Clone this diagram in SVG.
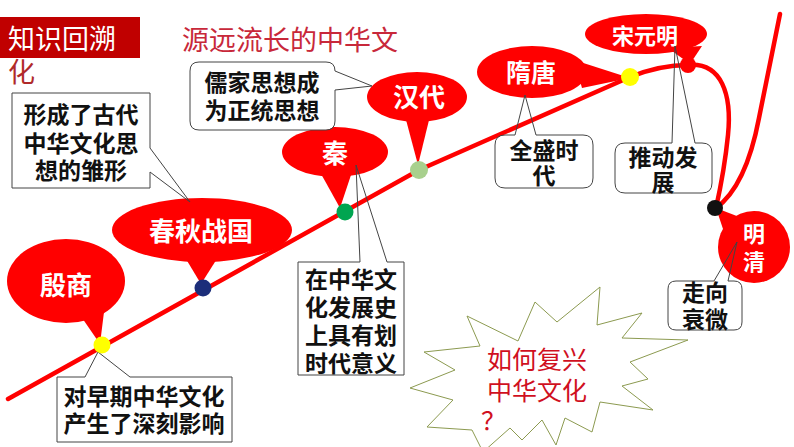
<svg xmlns="http://www.w3.org/2000/svg" width="794" height="447" viewBox="0 0 794 447">
<style>
text{font-family:"Noto Sans CJK SC","Noto Sans",sans-serif}
.w{fill:#fff;font-weight:700;text-anchor:middle}
.b{fill:#111;font-weight:700;font-size:23px;text-anchor:middle}
.bub{fill:#ff0000}
.box{fill:#fff}
.out{fill:none;stroke:#444;stroke-width:1}
.line{fill:none;stroke:#ff0000;stroke-width:4.5;stroke-linecap:round}
</style>
<rect width="794" height="447" fill="#fff"/>

<g id="starburst">
<polygon points="467,316 518,341 535,302 557,322 600,287 597,325 642,313 622,338 688,340 630,362 648,379 622,386 653,410 600,402 592,432 565,418 556,445 542,420 522,440 510,428 483,452 472,430 427,427 453,400 410,388 455,370 424,352 480,346" fill="#fff" stroke="#8c9a50" stroke-width="1"/>
<text x="487" y="369" font-size="25" fill="#d0101e">如何复兴</text>
<text x="487" y="400" font-size="25" fill="#d0101e">中华文化</text>
<text x="481" y="430" font-size="25" fill="#d0101e">？</text>
</g>

<g id="title">
<rect x="0" y="17" width="140" height="41" fill="#c00000"/>
<text x="8" y="49" font-size="27" fill="#fff">知识回溯</text>
<text x="8" y="82" font-size="27" fill="#b02a2a">化</text>
<text x="182" y="50" font-size="27" fill="#c8283a">源远流长的中华文</text>
</g>

<g id="connectors">
<path class="line" d="M8,399 L419,170 L630,77 Q660,65 688,65"/>
<path class="line" d="M688,65 C722,62 732,95 728,135 C725,165 720,190 716,208"/>
<path class="line" d="M780,14 L759,118 C751,160 738,192 716,208"/>
</g>

<g id="yinshang">
<ellipse class="bub" cx="66" cy="281" rx="59" ry="42"/>
<polygon class="bub" points="78,312 104,312 100,344"/>
<text class="w" x="66" y="295" font-size="26">殷商</text>
</g>

<g id="chunqiu">
<ellipse class="bub" cx="202" cy="230" rx="90" ry="32"/>
<polygon class="bub" points="183,254 220,254 201,284"/>
<text class="w" x="201" y="241" font-size="26">春秋战国</text>
</g>

<g id="qin">
<ellipse class="bub" cx="335" cy="152" rx="53" ry="25"/>
<polygon class="bub" points="320,172 352,172 340,208"/>
<text class="w" x="335" y="163" font-size="26">秦</text>
</g>

<g id="handai">
<ellipse class="bub" cx="417" cy="97" rx="50" ry="25"/>
<polygon class="bub" points="405,116 430,116 418,165"/>
<text class="w" x="419" y="107" font-size="26">汉代</text>
</g>

<g id="suitang">
<ellipse class="bub" cx="532" cy="72" rx="55" ry="26"/>
<polygon class="bub" points="574,60 582,88 630,78"/>
<text class="w" x="531" y="82" font-size="25">隋唐</text>
</g>

<g id="songyuanming">
<ellipse class="bub" cx="646" cy="34" rx="61" ry="20"/>
<polygon class="bub" points="668,48 702,46 690,64"/>
<circle class="bub" cx="688" cy="65" r="8"/>
<text class="w" x="645" y="44" font-size="22">宋元明</text>
</g>

<g id="mingqing">
<circle class="bub" cx="754" cy="247" r="36"/>
<polygon class="bub" points="716,208 742,218 726,238"/>
<text class="w" x="754" y="242" font-size="22">明</text>
<text class="w" x="754" y="270" font-size="22">清</text>
</g>

<g id="note-xingcheng">
<rect class="box" x="12" y="93" width="138" height="95"/>
<path class="out" stroke="#888" d="M12,93 H150 V148 L190,202 L150,172 V188 H12 Z"/>
<text class="b" x="81" y="123">形成了古代</text>
<text class="b" x="81" y="152">中华文化思</text>
<text class="b" x="81" y="179">想的雏形</text>
</g>

<g id="note-rujia">
<rect class="box" x="190" y="62" width="145" height="68" rx="9"/>
<path class="out" stroke="#777" d="M199,62 H326 Q335,62 335,71 L372,86 L335,90 V121 Q335,130 326,130 H199 Q190,130 190,121 V71 Q190,62 199,62 Z"/>
<text class="b" x="262" y="91">儒家思想成</text>
<text class="b" x="262" y="119">为正统思想</text>
</g>

<g id="note-qin">
<rect class="box" x="298" y="262" width="106" height="113"/>
<path class="out" d="M298,262 H360 L356,165 L387,262 H404 V375 H298 Z"/>
<text class="b" x="351" y="288">在中华文</text>
<text class="b" x="351" y="316">化发展史</text>
<text class="b" x="351" y="344">上具有划</text>
<text class="b" x="351" y="372">时代意义</text>
</g>

<g id="note-yinshang">
<rect class="box" x="57" y="377" width="175" height="65"/>
<path class="out" d="M57,377 H85 L98,352 L130,377 H232 V442 H57 Z"/>
<text class="b" x="144" y="405">对早期中华文化</text>
<text class="b" x="144" y="432">产生了深刻影响</text>
</g>

<g id="note-suitang">
<rect class="box" x="495" y="135" width="98" height="53" rx="10"/>
<path class="out" stroke="#222" d="M505,135 H515 L525,95 L536,135 H583 Q593,135 593,145 V178 Q593,188 583,188 H505 Q495,188 495,178 V145 Q495,135 505,135 Z"/>
<text class="b" x="544" y="159">全盛时</text>
<text class="b" x="544" y="184">代</text>
</g>

<g id="note-song">
<rect class="box" x="615" y="143" width="97" height="50" rx="10"/>
<path class="out" stroke="#222" d="M625,143 H672 L675,46 L695,143 H702 Q712,143 712,153 V183 Q712,193 702,193 H625 Q615,193 615,183 V153 Q615,143 625,143 Z"/>
<text class="b" x="663" y="166" font-size="22">推动发</text>
<text class="b" x="663" y="191" font-size="22">展</text>
</g>

<g id="note-ming">
<rect class="box" x="668" y="281" width="74" height="49" rx="8"/>
<path class="out" stroke="#222" d="M676,281 H714 L737,242 L728,281 H734 Q742,281 742,289 V322 Q742,330 734,330 H676 Q668,330 668,322 V289 Q668,281 676,281 Z"/>
<text class="b" x="705" y="301" font-size="22">走向</text>
<text class="b" x="705" y="328" font-size="22">衰微</text>
</g>

<g id="dots">
<circle cx="102" cy="345" r="8.5" fill="#ffff00"/>
<circle cx="203" cy="288" r="8.5" fill="#1c2e7a"/>
<circle cx="345" cy="212" r="8.5" fill="#00a550"/>
<circle cx="419" cy="170" r="9" fill="#a8d08d"/>
<circle cx="630" cy="77" r="9" fill="#ffff00"/>
<circle cx="715" cy="208" r="8" fill="#111"/>
</g>
</svg>
